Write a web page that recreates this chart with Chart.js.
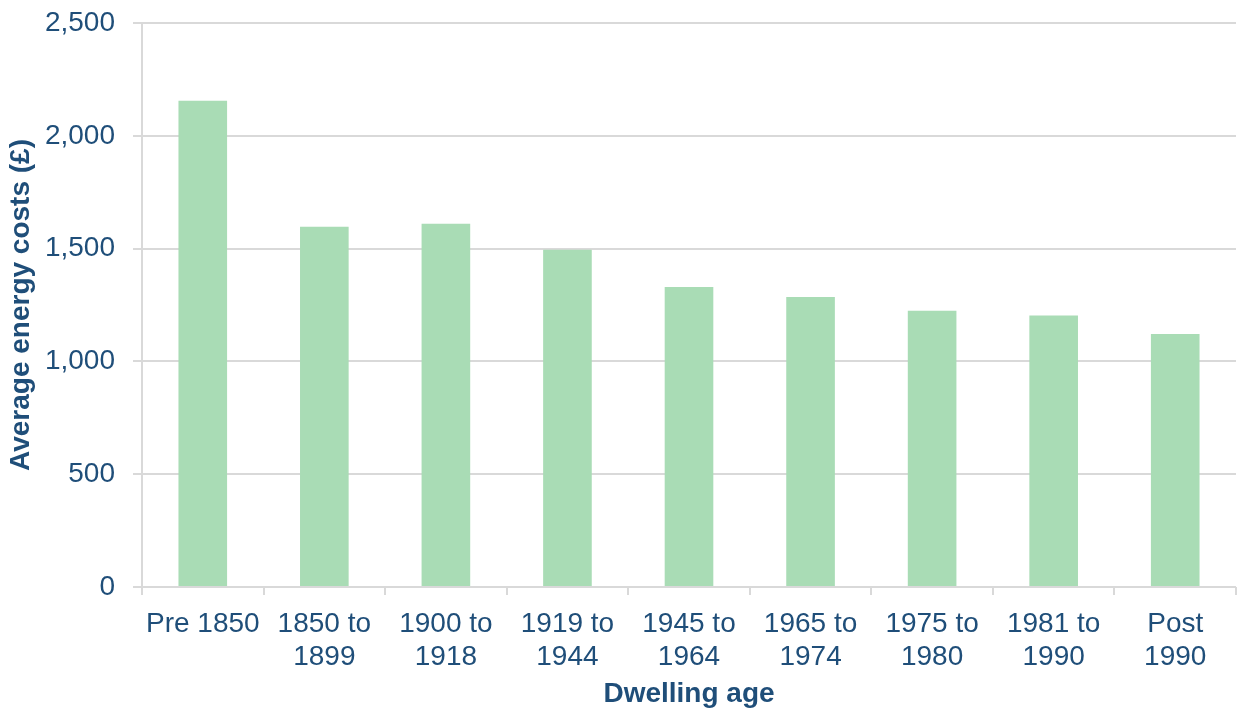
<!DOCTYPE html>
<html>
<head>
<meta charset="utf-8">
<script src="https://cdn.jsdelivr.net/npm/chart.js@4"></script>
<style>
  html, body { margin: 0; padding: 0; background: #fff; }
  #wrap { width: 1237px; height: 711px; position: relative; }
</style>
</head>
<body>
<div id="wrap"><canvas id="energy-chart"></canvas></div>
<script>
// Dwelling age bands and average energy costs (£)
const ageBands = [
    'Pre 1850', ['1850 to', '1899'], ['1900 to', '1918'], ['1919 to', '1944'],
    ['1945 to', '1964'], ['1965 to', '1974'], ['1975 to', '1980'],
    ['1981 to', '1990'], ['Post', '1990']
];
const avgCosts = [2155, 1597, 1610, 1495, 1330, 1286, 1225, 1204, 1122];
const yTicks = [0, 500, 1000, 1500, 2000, 2500];

const textColour = '#1F4E79';
const gridColour = '#D9D9D9';
const fontFamily = '"Liberation Sans", Arial, sans-serif';

const ctx = document.getElementById('energy-chart').getContext('2d');

new Chart(ctx, {
    type: 'bar',
    data: {
        labels: ageBands,
        datasets: [{
            data: avgCosts,
            backgroundColor: '#A9DCB5',
            borderWidth: 0,
            barPercentage: 0.4,
            categoryPercentage: 1.0
        }]
    },
    options: {
        responsive: true,
        maintainAspectRatio: false,
        animation: false,
        layout: { padding: { top: 23, right: 1, left: 0, bottom: 0 } },
        plugins: {
            legend: { display: false },
            tooltip: { enabled: false }
        },
        scales: {
            x: {
                afterFit: (scale) => {
                    scale.height = 124;
                    scale.paddingLeft = 0;
                    scale.paddingRight = 0;
                },
                grid: {
                    offset: true,
                    drawOnChartArea: false,
                    drawTicks: true,
                    tickLength: 8,
                    color: gridColour,
                    lineWidth: 2
                },
                border: { display: false },
                ticks: {
                    color: textColour,
                    font: { family: fontFamily, size: 28 },
                    padding: 12,
                    maxRotation: 0,
                    autoSkip: false
                },
                title: {
                    display: true,
                    text: 'Dwelling age',
                    color: textColour,
                    font: { family: fontFamily, size: 28, weight: 'bold' },
                    padding: { top: 0, bottom: 0 }
                }
            },
            y: {
                min: 0,
                max: 2500,
                afterBuildTicks: (scale) => {
                    scale.ticks = yTicks.map(v => ({ value: v }));
                },
                afterFit: (scale) => {
                    scale.width = 142;
                    scale.paddingTop = 0;
                    scale.paddingBottom = 0;
                },
                grid: {
                    color: gridColour,
                    lineWidth: 2,
                    tickLength: 9
                },
                border: { display: true, color: gridColour, width: 2 },
                ticks: {
                    color: textColour,
                    font: { family: fontFamily, size: 28 },
                    padding: 18,
                    callback: (v) => v.toLocaleString('en-GB')
                },
                title: {
                    display: true,
                    text: 'Average energy costs (£)',
                    color: textColour,
                    font: { family: fontFamily, size: 28, weight: 'bold' },
                    padding: { top: 4, bottom: 0 }
                }
            }
        }
    }
});
</script>
</body>
</html>
